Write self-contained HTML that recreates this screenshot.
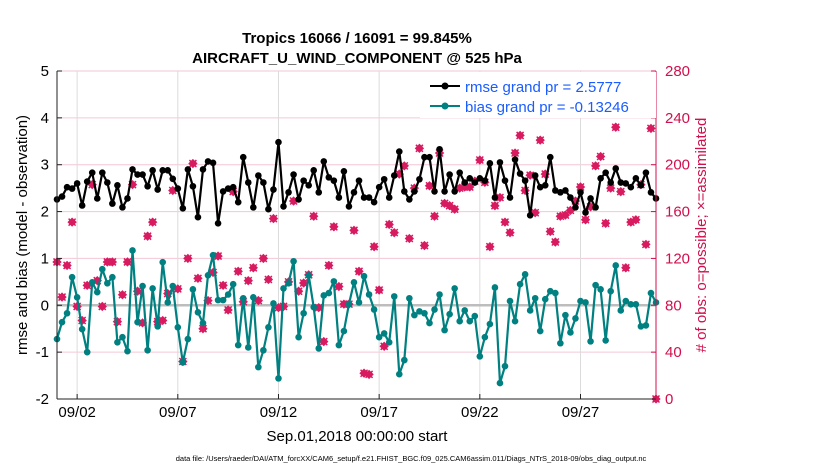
<!DOCTYPE html>
<html><head><meta charset="utf-8"><style>
body{margin:0;background:#fff;font-family:"Liberation Sans",sans-serif}
</style></head><body>
<svg id="chart" width="830" height="470" xmlns="http://www.w3.org/2000/svg" font-family="Liberation Sans, sans-serif">
<rect width="830" height="470" fill="#fff"/>
<g id="grid"></g>
<g id="marks"></g>
<g id="axes"></g>
<text x="357" y="43" font-size="15" font-weight="bold" text-anchor="middle">Tropics 16066 / 16091 = 99.845%</text>
<text x="357" y="63" font-size="15" font-weight="bold" text-anchor="middle">AIRCRAFT_U_WIND_COMPONENT @ 525 hPa</text>
<text x="357" y="441" font-size="15" text-anchor="middle">Sep.01,2018 00:00:00 start</text>
<text transform="translate(27,235) rotate(-90)" font-size="15" text-anchor="middle">rmse and bias (model - observation)</text>
<text transform="translate(706,235) rotate(-90)" font-size="15" fill="#d0104c" text-anchor="middle"># of obs: o=possible; ×=assimilated</text>
<text x="411" y="461" font-size="7.5" text-anchor="middle">data file: /Users/raeder/DAI/ATM_forcXX/CAM6_setup/f.e21.FHIST_BGC.f09_025.CAM6assim.011/Diags_NTrS_2018-09/obs_diag_output.nc</text>
<g>
<rect x="420" y="72" width="236" height="46" fill="#fff"/>
<line x1="430" y1="86" x2="460" y2="86" stroke="#000" stroke-width="2"/><circle cx="445" cy="86" r="3.5" fill="#000"/>
<text x="465" y="92" font-size="15" fill="#1a5cff">rmse grand pr = 2.5777</text>
<line x1="430" y1="106" x2="460" y2="106" stroke="#008080" stroke-width="2"/><circle cx="445" cy="106" r="3.5" fill="#008080"/>
<text x="465" y="112" font-size="15" fill="#1a5cff">bias grand pr = -0.13246</text>
</g>
</svg>
<script>
const rmse=[2.26,2.32,2.52,2.49,2.6,2.13,2.64,2.83,2.28,2.83,2.62,2.17,2.56,2.09,2.28,2.9,2.79,2.79,2.54,2.88,2.47,2.88,2.88,2.7,2.49,2.07,2.9,2.54,1.88,2.9,3.07,3.04,1.75,2.43,2.49,2.52,2.2,3.16,2.62,2.09,2.77,
2.62,2.05,2.47,3.48,2.11,2.41,2.79,2.26,2.66,2.56,2.88,2.41,3.07,2.73,2.66,2.3,2.86,2.11,2.41,2.66,2.3,2.3,2.2,2.52,2.69,2.3,2.77,3.28,2.43,2.26,2.43,2.69,3.16,3.16,2.43,3.33,2.43,2.79,2.43,2.83,
2.62,2.71,2.62,2.71,2.66,3.03,2.3,3.05,2.66,2.3,3.11,2.81,2.66,1.92,2.77,2.52,2.56,3.16,2.45,2.41,2.45,2.3,2.09,2.41,1.98,2.28,2.09,2.71,2.83,2.62,2.92,2.62,2.6,2.52,2.71,2.56,2.83,2.41,2.28];
const bias=[-0.72,-0.36,-0.17,0.6,0.17,-0.51,-1.0,0.49,0.28,0.77,0.47,0.6,-0.79,-0.68,-0.98,1.17,-0.36,0.41,-0.96,0.36,-0.45,0.92,0.06,0.41,-0.47,-1.22,-0.72,0.34,-0.15,-0.38,0.64,1.07,0.11,0.11,0.23,0.45,-0.85,0.15,-0.9,0.17,-1.32,
-0.96,-0.47,0.04,-1.56,0.36,0.47,0.94,-0.68,-0.17,0.64,-0.04,-0.92,0.21,0.26,0.51,-0.85,-0.55,0.02,0.49,0.06,0.62,0.23,-0.09,-0.68,-0.6,-0.79,0.19,-1.47,-1.17,0.15,-0.21,-0.13,-0.17,-0.38,-0.09,0.23,-0.53,-0.19,0.36,-0.34,
-0.11,-0.34,-0.23,-1.09,-0.68,-0.4,0.38,-1.66,-1.3,0.09,-0.34,0.45,0.66,-0.11,0.15,-0.55,0.13,0.3,0.26,-0.81,-0.21,-0.58,-0.28,0.09,0.06,-0.77,0.43,0.34,-0.75,0.3,0.85,-0.11,0.09,0.02,0.02,-0.45,-0.43,0.26,0.06];
const nobs=[117,87,114,151,79,67,97,183,101,79,117,117,66,89,117,183,92,65,139,151,66,67,90,178,94,32,120,201,103,60,84,108,122,97,76,177,109,83,101,112,84,120,
102,154,78,79,100,169,92,99,106,156,78,49,114,147,96,81,81,144,109,22,21,130,93,45,149,142,192,199,137,180,214,131,182,156,210,167,165,162,180,
181,181,186,204,185,130,165,172,151,142,210,225,178,191,159,221,192,143,134,156,157,161,169,181,153,164,199,207,150,180,232,177,112,151,153,183,132,231,0];
const xTickDays=[1,6,11,16,21,26];
const xTickLabels=["09/02","09/07","09/12","09/17","09/22","09/27"];
const leftTicks=[-2,-1,0,1,2,3,4,5];
const rightTicks=[0,40,80,120,160,200,240,280];

const X0=57,X1=656,Y0=71,Y1=399,DAYS=29.75;
const xS=d=>X0+(d/DAYS)*(X1-X0);
const yL=v=>Y1-(v+2)/7*(Y1-Y0);
const yR=v=>Y1-v/280*(Y1-Y0);
const NS="http://www.w3.org/2000/svg";
function mk(tag,parent,attrs){const e=document.createElementNS(NS,tag);for(const k in attrs)e.setAttribute(k,attrs[k]);parent.appendChild(e);return e;}
const grid=document.getElementById('grid'),marks=document.getElementById('marks'),axes=document.getElementById('axes');
mk('rect',grid,{x:X0,y:Y0,width:X1-X0,height:Y1-Y0,fill:'#fff'});
rightTicks.forEach(t=>{const l=mk('line',grid,{x1:X0,x2:X1,y1:yR(t),y2:yR(t),stroke:'#f4c6d6','stroke-width':1});

});
xTickDays.forEach((d,i)=>{const l=mk('line',grid,{x1:xS(d),x2:xS(d),y1:Y0,y2:Y1,stroke:'#dcdcdc','stroke-width':1});


const t=mk('text',axes,{x:xS(d),y:Y1+18,'font-size':15,'text-anchor':'middle'});t.textContent=xTickLabels[i];


mk('line',axes,{x1:xS(d),x2:xS(d),y1:Y1,y2:Y1-5,stroke:'#222'});});
const z=mk('line',grid,{x1:X0,x2:X1,y1:yL(0),y2:yL(0),stroke:'#bdbdbd','stroke-width':2.5});


leftTicks.forEach(t=>{const e=mk('text',axes,{x:X0-8,y:yL(t)+5,'font-size':15,'text-anchor':'end'});e.textContent=t;


mk('line',axes,{x1:X0,x2:X0+5,y1:yL(t),y2:yL(t),stroke:'#222'});});
rightTicks.forEach(t=>{const e=mk('text',axes,{x:X1+9,y:yR(t)+5,'font-size':15,fill:'#d0104c'});e.textContent=t;


mk('line',axes,{x1:X1,x2:X1-5,y1:yR(t),y2:yR(t),stroke:'#d0104c'});});
mk('line',axes,{x1:X0,x2:X0,y1:Y0,y2:Y1,stroke:'#222'});
mk('line',axes,{x1:X0,x2:X1,y1:Y1,y2:Y1,stroke:'#222'});
mk('line',axes,{x1:X1,x2:X1,y1:Y0,y2:Y1,stroke:'#d0104c'});
nobs.forEach((v,i)=>{const cx=xS(i*0.25),cy=yR(v);
const g=mk('g',marks,{});


mk('rect',g,{x:cx-3.3,y:cy-3.3,width:6.6,height:6.6,fill:'#d81b60',transform:`rotate(45 ${cx} ${cy})`});
mk('path',g,{d:`M${cx-3.5} ${cy-3.5}L${cx+3.5} ${cy+3.5}M${cx-3.5} ${cy+3.5}L${cx+3.5} ${cy-3.5}`,stroke:'#d81b60','stroke-width':1.5});});
function series(arr,color,name){
const pts=arr.map((v,i)=>xS(i*0.25).toFixed(1)+','+yL(v).toFixed(1)).join(' ');
const p=mk('polyline',marks,{points:pts,fill:'none',stroke:color,'stroke-width':2.2,'stroke-linejoin':'round'});


arr.forEach((v,i)=>{const c=mk('circle',marks,{cx:xS(i*0.25),cy:yL(v),r:3.3,fill:color});

});}
series(bias,'#008080','bias');
series(rmse,'#000','rmse');
</script>
</body></html>
